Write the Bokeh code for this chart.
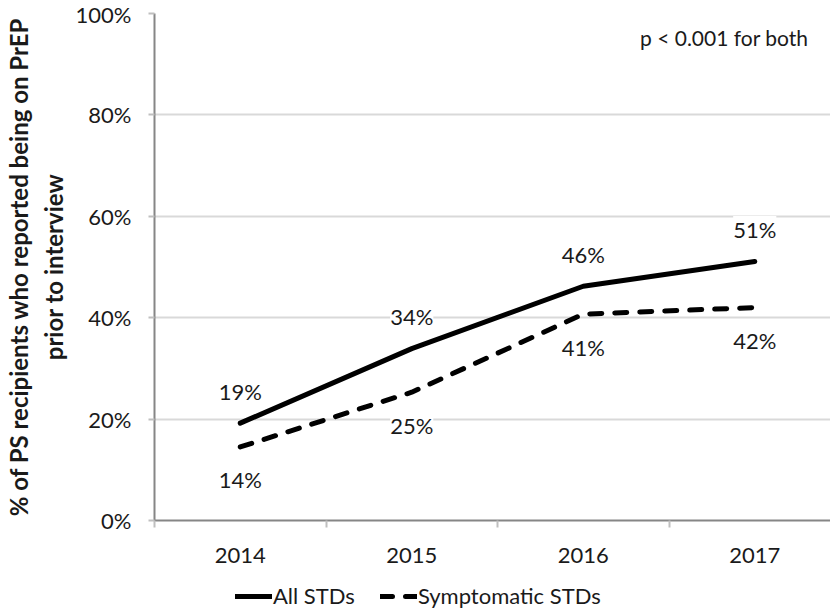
from bokeh.plotting import figure
from bokeh.layouts import column
from bokeh.models import (ColumnDataSource, Range1d, FixedTicker, LabelSet, Label,
                          Legend, LegendItem, Grid, Title)
from bokeh.core.properties import value
from bokeh.embed import file_html
from bokeh.resources import INLINE

# ---- data ----
years = ["2014", "2015", "2016", "2017"]
all_stds = [19.2, 33.9, 46.2, 51.1]
symptomatic_stds = [14.5, 25.3, 40.7, 42.0]
all_labels = ["19%", "34%", "46%", "51%"]
symp_labels = ["14%", "25%", "41%", "42%"]
y_ticks = [0, 20, 40, 60, 80, 100]
y_tick_labels = ["0%", "20%", "40%", "60%", "80%", "100%"]
series_names = ["All STDs", "Symptomatic STDs"]
note = "p < 0.001 for both"
y_title_1 = "% of PS recipients who reported being on PrEP"
y_title_2 = "prior to interview"

FONT = "Lato"
W = 830
H_MAIN, H_LEG = 575, 38
LEFT, TOP = 154, 13
FRAME_BOTTOM = 520
CAT_W = 171.5

xs = [i + 0.5 for i in range(len(years))]
src_all = ColumnDataSource(dict(x=xs, y=all_stds, t=all_labels))
src_sym = ColumnDataSource(dict(x=xs, y=symptomatic_stds, t=symp_labels))

p = figure(width=W, height=H_MAIN, output_backend="svg", toolbar_location=None,
           x_range=Range1d(0, (W - LEFT) / CAT_W), y_range=Range1d(0, 100),
           min_border_left=LEFT, min_border_top=TOP,
           min_border_bottom=H_MAIN - FRAME_BOTTOM, min_border_right=0)
p.outline_line_color = None
p.background_fill_color = "white"

# x axis
xa = p.xaxis[0]
xa.ticker = FixedTicker(ticks=xs, minor_ticks=list(range(len(years) + 1)))
xa.major_label_overrides = {x: y for x, y in zip(xs, years)}
xa.major_tick_out = 0
xa.major_tick_in = 0
xa.minor_tick_out = 7
xa.minor_tick_in = 0
xa.minor_tick_line_color = "#bfbfbf"
xa.minor_tick_line_width = 2
xa.axis_line_color = "#868686"
xa.axis_line_width = 2
xa.major_label_text_font = FONT
xa.major_label_text_font_size = "22px"
xa.major_label_text_color = "#1a1a1a"
xa.major_label_standoff = 20

# y axis
ya = p.yaxis[0]
ya.ticker = FixedTicker(ticks=y_ticks, minor_ticks=[])
ya.major_label_overrides = {t: l for t, l in zip(y_ticks, y_tick_labels)}
ya.major_tick_out = 6
ya.major_tick_in = 0
ya.major_tick_line_color = "#bfbfbf"
ya.major_tick_line_width = 2
ya.axis_line_color = "#868686"
ya.axis_line_width = 2
ya.major_label_text_font = FONT
ya.major_label_text_font_size = "22px"
ya.major_label_text_color = "#1a1a1a"
ya.major_label_standoff = 17

p.xgrid.visible = False
p.ygrid.ticker = FixedTicker(ticks=y_ticks[1:-1])
p.ygrid.grid_line_color = "#d9d9d9"
p.ygrid.grid_line_width = 2
top_grid = Grid(dimension=1, ticker=FixedTicker(ticks=[y_ticks[-1]]),
                grid_line_color="#3a3a3a", grid_line_width=2)
p.add_layout(top_grid)

# y axis title (two lines)
p.add_layout(Title(text=y_title_2, align="center", text_font=FONT,
                   text_font_size="24px", text_font_style="bold",
                   text_color="#1a1a1a", standoff=9, offset=0), "left")
p.add_layout(Title(text=y_title_1, align="center", text_font=FONT,
                   text_font_size="24px", text_font_style="bold",
                   text_color="#1a1a1a", standoff=0, offset=15), "left")

# lines
line_all = dict(line_color="black", line_width=5, line_cap="round", line_join="round")
line_sym = dict(line_color="black", line_width=5, line_cap="round", line_join="round",
                line_dash="12 13")
p.line("x", "y", source=src_all, **line_all)
p.line("x", "y", source=src_sym, **line_sym)

# data labels
lab_kw = dict(x="x", y="y", text="t", text_font=value(FONT), text_font_size="22px",
              text_color="#1a1a1a", text_align="center", text_baseline="middle",
              background_fill_color="white")
p.add_layout(LabelSet(source=src_all, y_offset=32, **lab_kw))
p.add_layout(LabelSet(source=src_sym, y_offset=-33, **lab_kw))

# note
p.add_layout(Label(x=3.813, y=95.3, text=note, text_font=FONT,
                   text_font_size="21px", text_color="#1a1a1a",
                   text_align="right", text_baseline="middle"))

# legend (separate strip below the chart; its lines lie outside its own range)
lg = figure(width=W, height=H_LEG, output_backend="svg", toolbar_location=None,
            x_range=Range1d(100, 101), y_range=Range1d(100, 101),
            min_border=0, x_axis_type=None, y_axis_type=None)
lg.outline_line_color = None
lg.xgrid.visible = False
lg.ygrid.visible = False
lr_all = lg.line("x", "y", source=src_all, **line_all)
lr_sym = lg.line("x", "y", source=src_sym, **line_sym)
legend = Legend(items=[LegendItem(label=series_names[0], renderers=[lr_all]),
                       LegendItem(label=series_names[1], renderers=[lr_sym])],
                orientation="horizontal", location=(81, 4),
                glyph_width=37, glyph_height=20, label_standoff=1,
                spacing=25, padding=0, margin=0,
                label_text_font=FONT, label_text_font_size="22px",
                label_text_color="#1a1a1a", border_line_color=None,
                background_fill_alpha=0)
lg.add_layout(legend)

page = column(p, lg, spacing=0)
open("out.html", "w").write(file_html(page, INLINE))
